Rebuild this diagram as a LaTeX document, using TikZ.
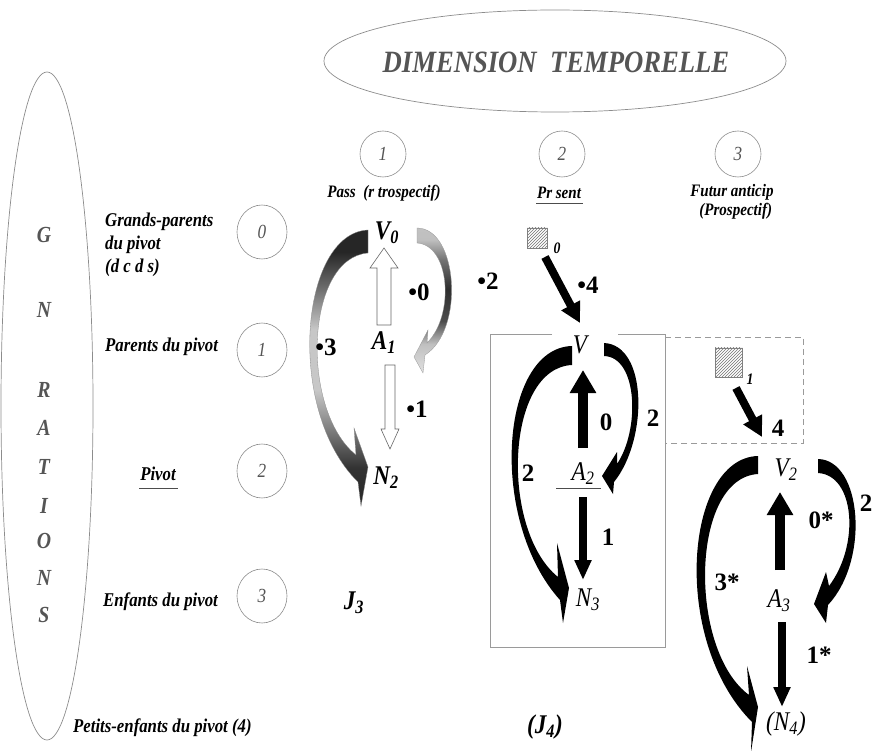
\documentclass[tikz,border=0pt]{standalone}
\usepackage{fontspec}
\setmainfont{Liberation Serif}[FakeStretch=0.86]
\newfontfamily\numfont{Liberation Serif}
\usetikzlibrary{arrows.meta,patterns,shapes.geometric}
\definecolor{ttl}{HTML}{555555}
\definecolor{circ}{HTML}{8C8C8C}
\definecolor{boxc}{HTML}{9A9A9A}
\pgfdeclareverticalshading{gradL}{100bp}{color(0bp)=(black!85); color(25bp)=(black!85); color(32bp)=(black!80); color(39bp)=(black!50); color(46bp)=(black!22); color(57bp)=(black!22); color(64bp)=(black!55); color(71bp)=(black!85); color(100bp)=(black!85)}
\pgfdeclareverticalshading{gradR}{100bp}{color(0bp)=(black!12); color(25bp)=(black!12); color(35bp)=(black!25); color(43bp)=(black!70); color(54bp)=(black!82); color(64bp)=(black!55); color(71bp)=(black!25); color(100bp)=(black!20)}
\begin{document}
\begin{tikzpicture}[x=1pt,y=-1pt,
  lbl/.style={font=\fontsize{19.5}{23}\selectfont\bfseries\itshape, inner sep=0, anchor=west, align=left},
  hdr/.style={font=\fontsize{17.5}{19}\selectfont\bfseries\itshape, inner sep=0},
  rowcirc/.style={ellipse, draw=circ, line width=0.6pt, minimum width=50pt, minimum height=54pt, inner sep=0, font=\fontsize{20}{20}\selectfont\itshape, text=ttl},
  colcirc/.style={ellipse, draw=circ, line width=0.6pt, minimum width=46pt, minimum height=46pt, inner sep=0, font=\fontsize{20}{20}\selectfont\itshape, text=ttl},
  gen/.style={font=\fontsize{23}{23}\selectfont\bfseries\itshape, text=ttl, inner sep=0},
  bigb/.style={font=\fontsize{27}{27}\selectfont\bfseries\itshape, inner sep=0},
  bigl/.style={font=\fontsize{27}{27}\selectfont\itshape, inner sep=0},
  num/.style={font=\numfont\fontsize{25}{25}\selectfont\bfseries, inner sep=0},
  blkbig/.style={line width=10pt, -{Triangle[width=25pt,length=23pt]}},
  blksmall/.style={line width=8pt, -{Triangle[width=16pt,length=20pt]}},
  blkdiag/.style={line width=8pt, -{Triangle[width=20pt,length=20pt]}},
  hollow/.style={draw=black!60, line width=0.6pt, fill=white},
  hatch/.style={draw=black!50, line width=0.5pt, pattern=north east lines, pattern color=black!55},
  subs/.style={font=\fontsize{16}{16}\selectfont\bfseries\itshape, inner sep=0}
]
\useasboundingbox (0,0) rectangle (873,751);

% title ellipse
\draw[circ, line width=0.7pt] (555,61) ellipse [x radius=231, y radius=51];
\node[font=\fontsize{31}{31}\selectfont\bfseries\itshape, text=ttl, inner sep=0] (title) at (556,62) {DIMENSION\ \ TEMPORELLE};

% generations ellipse
\draw[circ, line width=0.7pt] (47,406) ellipse [x radius=46, y radius=334];
\node[gen] (g1) at (44,235) {G};
\node[gen] (g2) at (44,310) {N};
\node[gen] (g3) at (44,390) {R};
\node[gen] (g4) at (44,428) {A};
\node[gen] (g5) at (44,467) {T};
\node[gen] (g6) at (44,506) {I};
\node[gen] (g7) at (44,541) {O};
\node[gen] (g8) at (44,578) {N};
\node[gen] (g9) at (44,615) {S};

% row labels
\node[lbl] (r0) at (105,245) {Grands-parents\\du pivot\\(d c d s)};
\node[lbl] (r1) at (105,347) {Parents du pivot};
\node[lbl, anchor=center] (r2) at (158,474) {Pivot};
\draw[black!70, line width=0.8pt] (139,488) -- (178,488);
\node[lbl] (r3) at (103,602) {Enfants du pivot};
\node[lbl] (r4) at (73,728) {Petits-enfants du pivot (4)};

\node[rowcirc] (c0) at (262,232) {0};
\node[rowcirc] (c1) at (262,350) {1};
\node[rowcirc] (c2) at (262,471) {2};
\node[rowcirc] (c3) at (262,596) {3};

% column headers
\node[colcirc] (k1) at (383,154) {1};
\node[colcirc] (k2) at (562,154) {2};
\node[colcirc] (k3) at (738,154) {3};
\node[hdr] (h1) at (384,193) {Pass\ \ (r trospectif)};
\node[hdr] (h2) at (559,193) {Pr sent};
\draw[black!70, line width=0.8pt] (536,203) -- (583,203);
\node[hdr, align=center] (h3) at (732,202) {Futur anticip\\\ \ (Prospectif)};

% ---------- column 1 ----------
\node[bigb] (V0) at (387,233) {V\textsubscript{0}};
\node[bigb] (A1) at (384,343) {A\textsubscript{1}};
\node[bigb] (N2) at (386,478) {N\textsubscript{2}};
\node[bigb] (J3) at (354,603) {J\textsubscript{3}};

\draw[hollow] (377,325) -- (377,268) -- (370,268) -- (384,248) -- (398,268) -- (391,268) -- (391,325) -- cycle;
\draw[hollow] (385,365) -- (385,429) -- (381,429) -- (390,449) -- (399,429) -- (395,429) -- (395,365) -- cycle;

\shade[shading=gradL, draw=black!45, line width=0.3pt]
  (368,230) .. controls (300,233) and (285,410) .. (358,482) -- (361,506) -- (368,467) -- (354,428) -- (356,455)
  .. controls (300,410) and (305,258) .. (368,253) -- cycle;
\shade[shading=gradR, draw=black!40, line width=0.3pt]
  (417,228) .. controls (458,228) and (465,330) .. (425,355) -- (423,373) -- (414,357) -- (428,330) -- (427,343)
  .. controls (455,315) and (450,245) .. (417,243) -- cycle;

\node[num] (l0) at (419,292) {•0};
\node[num] (l1) at (417,409) {•1};
\node[num] (l2) at (488,281) {•2};
\node[num] (l3) at (326,347) {•3};

% ---------- column 2 ----------
\draw[hatch] (527,228) rectangle (547,248);
\node[subs] (s0) at (557,248) {0};
\draw[blkdiag] (545,257) -- (580,323);
\node[num] (l4) at (588,285) {•4};

\draw[boxc, line width=0.8pt] (552,334) -- (490,334) -- (490,647) -- (665,647) -- (665,334) -- (618,334);
\draw[boxc, line width=0.8pt, dash pattern=on 6pt off 4pt] (665,337) -- (803,337) -- (803,443) -- (665,443);

\node[bigl] (V) at (580,345) {V};
\node[bigl] (A2) at (583,474) {A\textsubscript{2}};
\draw[black!70, line width=0.8pt] (556,488) -- (601,488);
\node[bigl] (N3) at (588,600) {N\textsubscript{3}};
\node[bigb] (J4) at (545,727) {(J\textsubscript{4})};

\draw[blkbig] (583,448) -- (583,370);
\draw[blksmall] (583,497) -- (583,580);

\fill (572,346) .. controls (500,348) and (488,520) .. (560,600) -- (563,623) -- (569,588) -- (557,543) -- (558,577)
  .. controls (500,530) and (505,368) .. (572,365) -- cycle;
\fill (604,343) .. controls (648,345) and (648,440) .. (614,482) -- (613,494) -- (602,476) -- (617,452) -- (617,464)
  .. controls (640,430) and (638,357) .. (604,356) -- cycle;

\node[num] (m0) at (606,422) {0};
\node[num] (m1) at (608,537) {1};
\node[num] (m2r) at (653,418) {2};
\node[num] (m2l) at (528,473) {2};

% ---------- column 3 ----------
\draw[hatch] (715,348) rectangle (742,377);
\node[subs] (s1) at (750,379) {1};
\draw[blkdiag] (736,388) -- (762,437);
\node[num] (n4) at (778,428) {4};

\node[bigl] (V2) at (786,470) {V\textsubscript{2}};
\node[bigl] (A3) at (779,601) {A\textsubscript{3}};
\node[bigl] (N4) at (786,724) {(N\textsubscript{4})};

\draw[blkbig] (780,570) -- (780,492);
\draw[blksmall] (782,622) -- (782,707);

\fill (758,456) .. controls (685,458) and (670,640) .. (752,722) -- (751,752) -- (758,707) -- (747,666) -- (749,695)
  .. controls (688,650) and (690,478) .. (758,474) -- cycle;
\fill (818,459) .. controls (862,460) and (870,560) .. (828,605) -- (826,623) -- (814,604) -- (826,572) -- (829,586)
  .. controls (860,545) and (855,475) .. (818,473) -- cycle;

\node[num] (p0) at (821,520) {0*};
\node[num] (p1) at (819,655) {1*};
\node[num] (p2) at (866,503) {2};
\node[num] (p3) at (727,582) {3*};
\end{tikzpicture}
\end{document}
